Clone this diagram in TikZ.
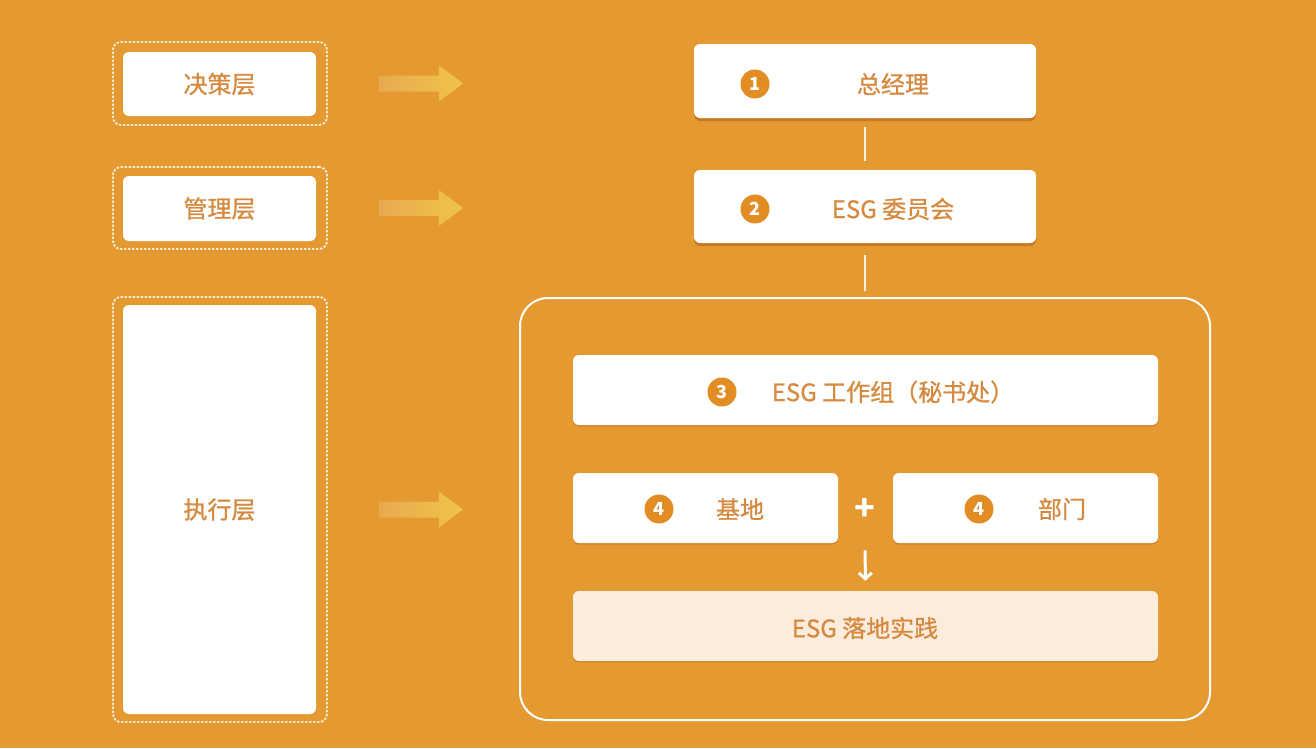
\documentclass[tikz,border=0pt]{standalone}
\usepackage{fontspec}
\setmainfont{Noto Sans CJK SC}
\newfontfamily\cjkmed{Noto Sans CJK SC}[FakeBold=0.9]
\usepackage{tikz}
\usetikzlibrary{arrows.meta,shadows}
\definecolor{bgorange}{RGB}{228,154,48}
\definecolor{txtorange}{RGB}{214,138,64}
\definecolor{badgeorange}{RGB}{226,140,36}
\definecolor{shadeorange}{RGB}{196,118,32}
\definecolor{creamfill}{RGB}{251,236,221}
\definecolor{arrowyellow}{RGB}{240,196,74}
\tikzset{
  layerframe/.style={draw=white, line width=1.9pt, dash pattern=on 2.4pt off 1.6pt, rounded corners=8pt, draw opacity=0.8, inner sep=0pt, minimum width=214pt},
  layerbox/.style={fill=white, rounded corners=6pt, inner sep=0pt, minimum width=193pt, text=txtorange, font=\cjkmed\fontsize{24}{24}\selectfont},
  layerarrow/.style={left color=bgorange!85!white, right color=arrowyellow, draw=none},
  rolebox/.style={fill=white, rounded corners=6pt, inner sep=0pt, drop shadow={shadow xshift=0pt, shadow yshift=-3pt, fill=shadeorange, opacity=0.9}},
  subbox/.style={fill=white, rounded corners=6pt, inner sep=0pt, minimum height=70pt, drop shadow={shadow xshift=0pt, shadow yshift=-1.5pt, fill=shadeorange, opacity=0.6}},
  roletext/.style={text=txtorange, inner sep=0pt, font=\cjkmed\fontsize{24}{24}\selectfont},
  rolebadge/.style={circle, fill=badgeorange, text=white, minimum size=29pt, inner sep=0pt, font=\bfseries\fontsize{18}{18}\selectfont},
  rolelink/.style={draw=white, line width=2.6pt, draw opacity=0.85},
  groupframe/.style={draw=white, line width=2pt, rounded corners=28pt, inner sep=0pt},
  flowarrow/.style={draw=white, line width=3pt, line cap=round, -{Straight Barb[length=6pt,width=13pt,line width=3pt]}},
}
\newcommand\layerarrow[1]{%
  \shade[layerarrow] ([xshift=51pt]#1.east) ++(0,-8) -- ++(60,0) -- ++(0,-10) -- ++(24,18) -- ++(-24,18) -- ++(0,-10) -- ++(-60,0) -- cycle;}

\begin{document}
\begin{tikzpicture}[x=1pt,y=-1pt]
\fill[bgorange] (0,0) rectangle (1316,748);
\useasboundingbox (0,0) rectangle (1316,748);

% left column: layers
\node[layerframe, minimum height=83pt] (decframe) at (220,83.5) {};
\node[layerbox, minimum height=64pt] (dec) at (219.5,84) {决策层};
\node[layerframe, minimum height=82pt] (mgtframe) at (220,208) {};
\node[layerbox, minimum height=65pt] (mgt) at (219.5,208.5) {管理层};
\node[layerframe, minimum height=425pt] (exeframe) at (220,509.5) {};
\node[layerbox, minimum height=409pt] (exe) at (219.5,509.5) {执行层};

\layerarrow{decframe}
\layerarrow{mgtframe}
\layerarrow{exeframe}

% right column: roles
\node[rolebox, minimum width=342pt, minimum height=74pt] (gm) at (865,81) {};
\node[rolebadge] (gmnum) at (755,84) {1};
\node[roletext] (gmtxt) at (893,84) {总经理};

\node[rolebox, minimum width=342pt, minimum height=73pt] (com) at (865,206.5) {};
\node[rolebadge] (comnum) at (755,209) {2};
\node[roletext] (comtxt) at (893,209) {ESG 委员会};

\node[groupframe, minimum width=690pt, minimum height=422pt] (grp) at (865,509) {};

\node[subbox, minimum width=585pt] (wg) at (865.5,390) {};
\node[rolebadge] (wgnum) at (722,392) {3};
\node[roletext] (wgtxt) at (893,392) {ESG 工作组（秘书处）};

\node[subbox, minimum width=265pt] (base) at (705.5,508) {};
\node[rolebadge] (basenum) at (659,509) {4};
\node[roletext] (basetxt) at (740,509) {基地};

\node[subbox, minimum width=265pt] (dept) at (1025.5,508) {};
\node[rolebadge] (deptnum) at (979,509) {4};
\node[roletext] (depttxt) at (1062,509) {部门};

\node[text=white, inner sep=0pt, font=\bfseries\fontsize{34}{34}\selectfont] (plus) at (865,509) {+};

\node[subbox, fill=creamfill, minimum width=585pt] (prac) at (865.5,626) {};
\node[roletext] (practxt) at (865,628) {ESG 落地实践};

\draw[rolelink, shorten <=9pt, shorten >=9pt] (gm.south) -- (com.north);
\draw[rolelink, shorten <=12pt, shorten >=6pt] (com.south) -- (grp.north);
\draw[flowarrow, shorten <=8pt, shorten >=10pt] (plus |- base.south) -- (prac.north);
\end{tikzpicture}
\end{document}
